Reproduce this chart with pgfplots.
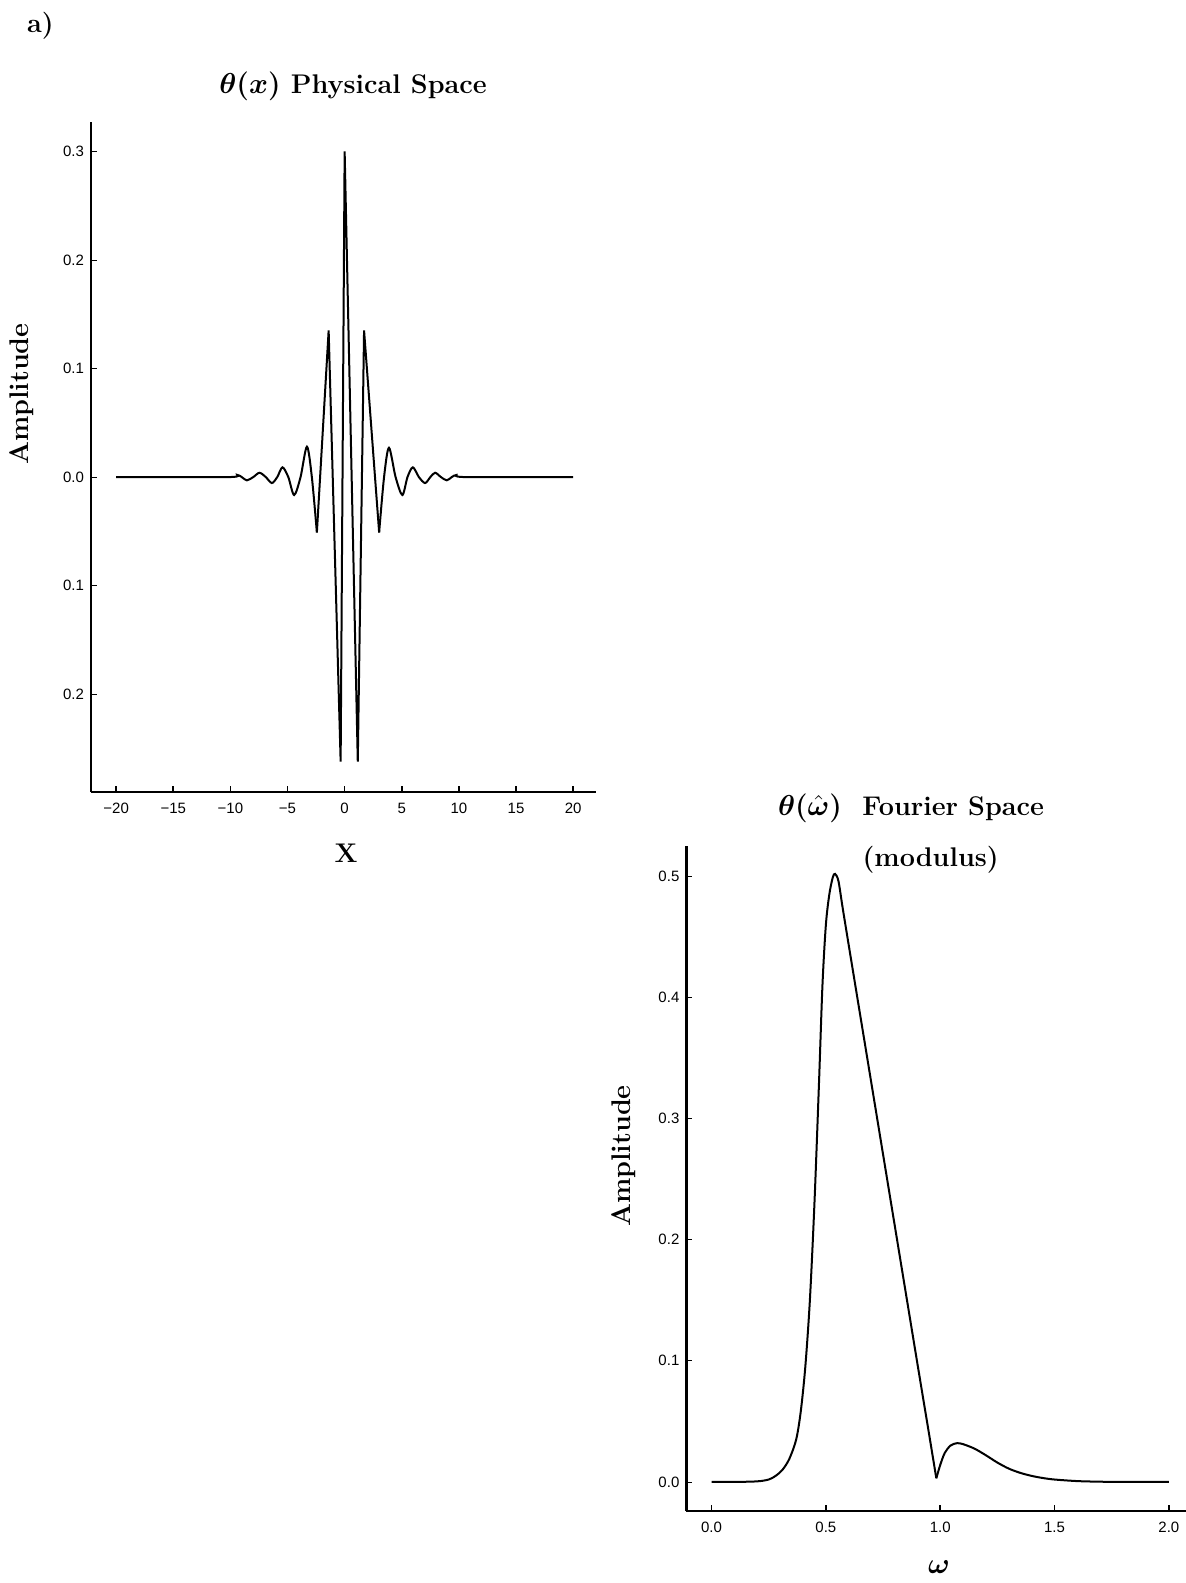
\documentclass[border=0pt]{standalone}
\usepackage{pgfplots}
\pgfplotsset{compat=1.18}
\usepackage{fontspec}
\usepackage{bm}
\newfontfamily\ticksf{Liberation Sans}
\newcommand{\tickfont}{\ticksf\fontsize{7.5}{9}\selectfont}
\newcommand{\labfont}{\fontsize{13.5}{16}\selectfont\bfseries}

\pgfplotstableread{
x y
-20 0
-10.2 0
-9.4 0.002
-9.0 0
-8.56 -0.003
-8.0 0
-7.45 0.004
-6.9 0
-6.37 -0.0055
-5.9 0
-5.44 0.009
-4.93 0
-4.42 -0.0165
-3.86 0
-3.3 0.028
-2.87 0
-2.43 -0.051
}\leftlobes

\pgfplotstableread{
x y
-2.43 -0.051
-1.4 0.135
-0.35 -0.262
0 0.300
1.15 -0.262
1.7 0.135
3.02 -0.051
}\centralspikes

\pgfplotstableread{
x y
3.02 -0.051
3.45 0
3.88 0.027
4.46 0
5.05 -0.0165
5.5 0
5.97 0.009
6.5 0
7.04 -0.0055
7.5 0
7.92 0.004
8.43 0
8.94 -0.003
9.37 0
9.8 0.002
10.6 0
20 0
}\rightlobes

\pgfplotstableread{
x y
0 0
0.1 0
0.2 0.0005
0.25 0.002
0.28 0.005
0.31 0.010
0.34 0.019
0.37 0.035
0.39 0.058
0.41 0.095
0.43 0.15
0.45 0.23
0.47 0.33
0.485 0.41
0.50 0.46
0.515 0.485
0.53 0.499
0.54 0.502
0.555 0.496
0.575 0.472
0.62 0.42
0.7 0.328
0.8 0.213
0.9 0.098
0.95 0.041
0.983 0.003
}\mainpeak

\pgfplotstableread{
x y
0.983 0.003
1.0 0.014
1.02 0.024
1.045 0.030
1.073 0.032
1.1 0.0312
1.15 0.0275
1.2 0.022
1.25 0.016
1.3 0.011
1.35 0.0075
1.4 0.005
1.45 0.0032
1.5 0.002
1.6 0.0007
1.7 0.0002
1.8 0
2.0 0
}\sidebump

\pgfplotsset{
  myaxis/.style={
    scale only axis,
    axis x line*=bottom,
    axis y line*=left,
    axis line style={line width=1.1pt, -},
    tick align=inside,
    major tick length=3pt,
    xtick style={black, line width=0.8pt},
    ytick style={black, line width=0.4pt},
    ticklabel style={font=\tickfont},
    xticklabel style={yshift=-2pt},
    clip=false,
    anchor=south west,
  },
  curve/.style={black, line width=1pt, no marks},
}

\begin{document}
\begin{tikzpicture}
\useasboundingbox (0,0) rectangle (593pt,-791.5pt);
\node[font=\labfont] at (20.2pt,-13pt) {a)};

% ---------- Physical space ----------
\begin{axis}[myaxis,
  at={(45.5pt,-396pt)},
  width=252.5pt, height=335pt,
  xmin=-22.2, xmax=22, ymin=-0.29, ymax=0.327,
  xtick={-20,-15,-10,-5,0,5,10,15,20},
  xticklabels={−20,−15,−10,−5,0,5,10,15,20},
  ytick={-0.2,-0.1,0,0.1,0.2,0.3},
  yticklabels={0.2,0.1,0.0,0.1,0.2,0.3},
  title={$\bm{\theta(x)}$ Physical Space},
  title style={at={(axis description cs:0.519,1.054)}, anchor=center, yshift=-6pt, font=\labfont},
  xlabel={X},
  xlabel style={at={(axis description cs:0.505,-0.091)}, anchor=center, font=\labfont},
  ylabel={Amplitude},
  ylabel style={at={(axis description cs:-0.137,0.594)}, anchor=center, font=\labfont},
]
\addplot[curve, smooth] table[x=x,y=y] {\leftlobes};
\addplot[curve, line join=miter, miter limit=20] table[x=x,y=y] {\centralspikes};
\addplot[curve, smooth] table[x=x,y=y] {\rightlobes};
\end{axis}

% ---------- Fourier space ----------
\begin{axis}[myaxis,
  at={(343.2pt,-755.5pt)},
  width=249.8pt, height=332.5pt,
  xmin=-0.110, xmax=2.075, ymin=-0.024, ymax=0.525,
  xtick={0,0.5,1,1.5,2},
  xticklabels={0.0,0.5,1.0,1.5,2.0},
  ytick={0,0.1,0.2,0.3,0.4,0.5},
  yticklabels={0.0,0.1,0.2,0.3,0.4,0.5},
  title={$\bm{\theta(\hat{\omega})}$\ \ Fourier Space},
  title style={at={(axis description cs:0.4496,1.0564)}, anchor=center, yshift=-6pt, font=\labfont},
  xlabel={$\bm{\omega}$},
  xlabel style={at={(axis description cs:0.5056,-0.085)}, anchor=center, font=\labfont},
  ylabel={Amplitude},
  ylabel style={at={(axis description cs:-0.125,0.534)}, anchor=center, font=\labfont},
]
\addplot[curve, smooth] table[x=x,y=y] {\mainpeak};
\addplot[curve, smooth] table[x=x,y=y] {\sidebump};
\node[font=\labfont] at (axis description cs:0.489,0.980) {(modulus)};
\end{axis}
\end{tikzpicture}
\end{document}
